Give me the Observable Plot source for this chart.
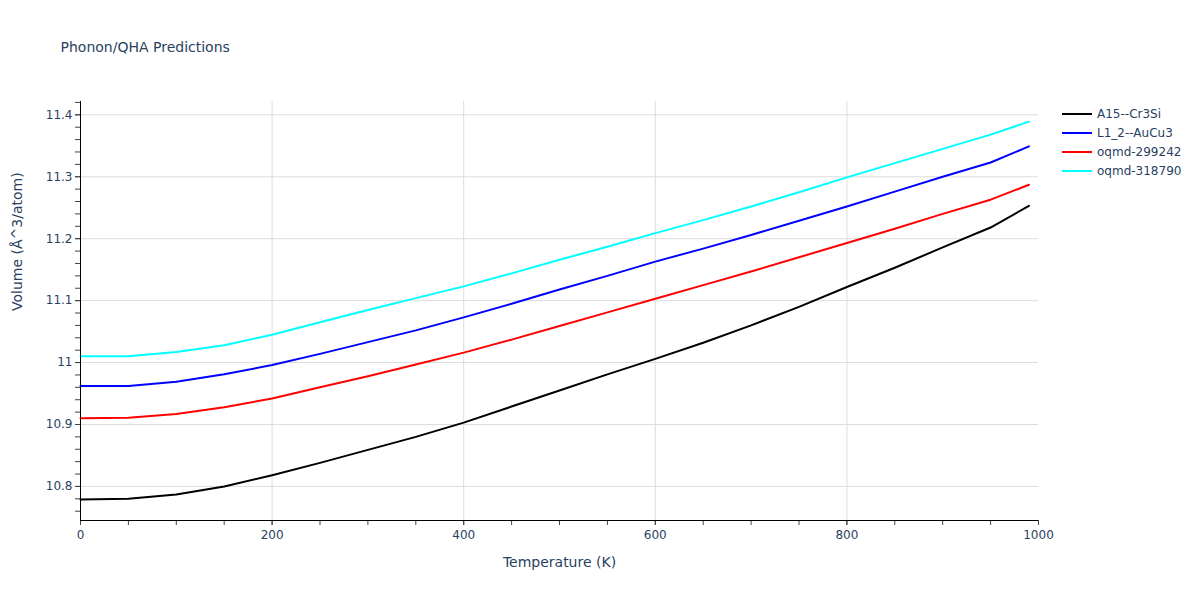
<!DOCTYPE html>
<html>
<head>
<meta charset="utf-8">
<script src="https://cdn.jsdelivr.net/npm/d3@7"></script>
<script src="https://cdn.jsdelivr.net/npm/@observablehq/plot@0.6"></script>
<style>
  body { margin: 0; background: white; }
  #wrap { position: relative; width: 1200px; height: 600px; font-family: 'DejaVu Sans', Verdana, sans-serif; color: #2a3f5f; }
  #legend { position: absolute; left: 1062px; top: 104px; font-size: 12px; }
  .item { height: 19px; display: flex; align-items: center; }
  .swatch { width: 30px; height: 2px; margin-right: 5px; }
</style>
</head>
<body>
<div id="wrap">
  <div id="chart"></div>
  <div id="legend"></div>
</div>
<script>
const temps = [0, 50, 100, 150, 200, 250, 300, 350, 400, 450, 500, 550, 600, 650, 700, 750, 800, 850, 900, 950, 990];
const seriesNames = ["A15--Cr3Si", "L1_2--AuCu3", "oqmd-299242", "oqmd-318790"];
const seriesColors = ["#000000", "#0000ff", "#ff0000", "#00ffff"];
const a15 = [10.779, 10.780, 10.787, 10.800, 10.818, 10.838, 10.859, 10.880, 10.903, 10.929, 10.955, 10.981, 11.006, 11.032, 11.060, 11.090, 11.122, 11.153, 11.186, 11.218, 11.253];
const l12 = [10.962, 10.962, 10.969, 10.981, 10.996, 11.014, 11.033, 11.052, 11.073, 11.095, 11.118, 11.140, 11.163, 11.184, 11.206, 11.229, 11.252, 11.276, 11.300, 11.323, 11.349];
const oqmd299242 = [10.910, 10.911, 10.917, 10.928, 10.942, 10.960, 10.978, 10.997, 11.016, 11.037, 11.059, 11.081, 11.103, 11.125, 11.147, 11.170, 11.193, 11.216, 11.240, 11.263, 11.287];
const oqmd318790 = [11.010, 11.010, 11.017, 11.028, 11.045, 11.065, 11.085, 11.104, 11.123, 11.144, 11.166, 11.187, 11.209, 11.230, 11.252, 11.275, 11.299, 11.322, 11.345, 11.368, 11.389];
const yMajorTicks = [10.8, 10.9, 11.0, 11.1, 11.2, 11.3, 11.4];
const yMinorTicks = d3.range(10.76, 11.42, 0.02).map(v => +v.toFixed(2));
const xMajorTicks = [0, 200, 400, 600, 800, 1000];
const xMinorTicks = d3.range(0, 1001, 50);
const xGridTicks = [200, 400, 600, 800];

const seriesValues = [a15, l12, oqmd299242, oqmd318790];
const rows = [];
seriesNames.forEach((name, i) => {
  temps.forEach((t, j) => rows.push({T: t, V: seriesValues[i][j], s: name}));
});

const chart = Plot.plot({
  width: 1200,
  height: 600,
  marginLeft: 80,
  marginRight: 162,
  marginTop: 101,
  marginBottom: 80,
  style: {fontFamily: "'DejaVu Sans', Verdana, sans-serif", color: "#2a3f5f", background: "white", fontSize: "12px"},
  x: {domain: [0, 1000]},
  y: {domain: [10.745, 11.4215]},
  color: {domain: seriesNames, range: seriesColors},
  marks: [
    Plot.gridY(yMajorTicks, {stroke: "#dddddd", strokeOpacity: 1}),
    Plot.gridX(xGridTicks, {stroke: "#dddddd", strokeOpacity: 1}),
    Plot.line(rows, {x: "T", y: "V", z: "s", stroke: "s", strokeWidth: 2}),
    Plot.axisY(yMinorTicks, {tickSize: 5, text: null, stroke: "#444", label: null}),
    Plot.axisY(yMajorTicks, {tickSize: 5, tickPadding: 3, stroke: "#444", tickFormat: d => String(+d.toFixed(1)), label: null}),
    Plot.axisX(xMinorTicks, {tickSize: 5, text: null, stroke: "#444", label: null}),
    Plot.axisX(xMajorTicks, {tickSize: 5, tickPadding: 5, stroke: "#444", tickFormat: d => String(d), label: null}),
    Plot.ruleX([0], {stroke: "black"}),
    Plot.ruleY([10.745], {stroke: "black"}),
    Plot.text(["Temperature (K)"], {frameAnchor: "bottom", dy: 46, fontSize: 14}),
    Plot.text(["Volume (Å^3/atom)"], {frameAnchor: "left", dx: -63, rotate: -90, fontSize: 14}),
    Plot.text(["Phonon/QHA Predictions"], {frameAnchor: "top-left", dx: -20, dy: -59, textAnchor: "start", fontSize: 14})
  ]
});
document.getElementById("chart").appendChild(chart);

const legend = document.getElementById("legend");
seriesNames.forEach((name, i) => {
  const item = document.createElement("div");
  item.className = "item";
  const sw = document.createElement("span");
  sw.className = "swatch";
  sw.style.background = seriesColors[i];
  const label = document.createElement("span");
  label.textContent = name;
  item.appendChild(sw);
  item.appendChild(label);
  legend.appendChild(item);
});
</script>
</body>
</html>
